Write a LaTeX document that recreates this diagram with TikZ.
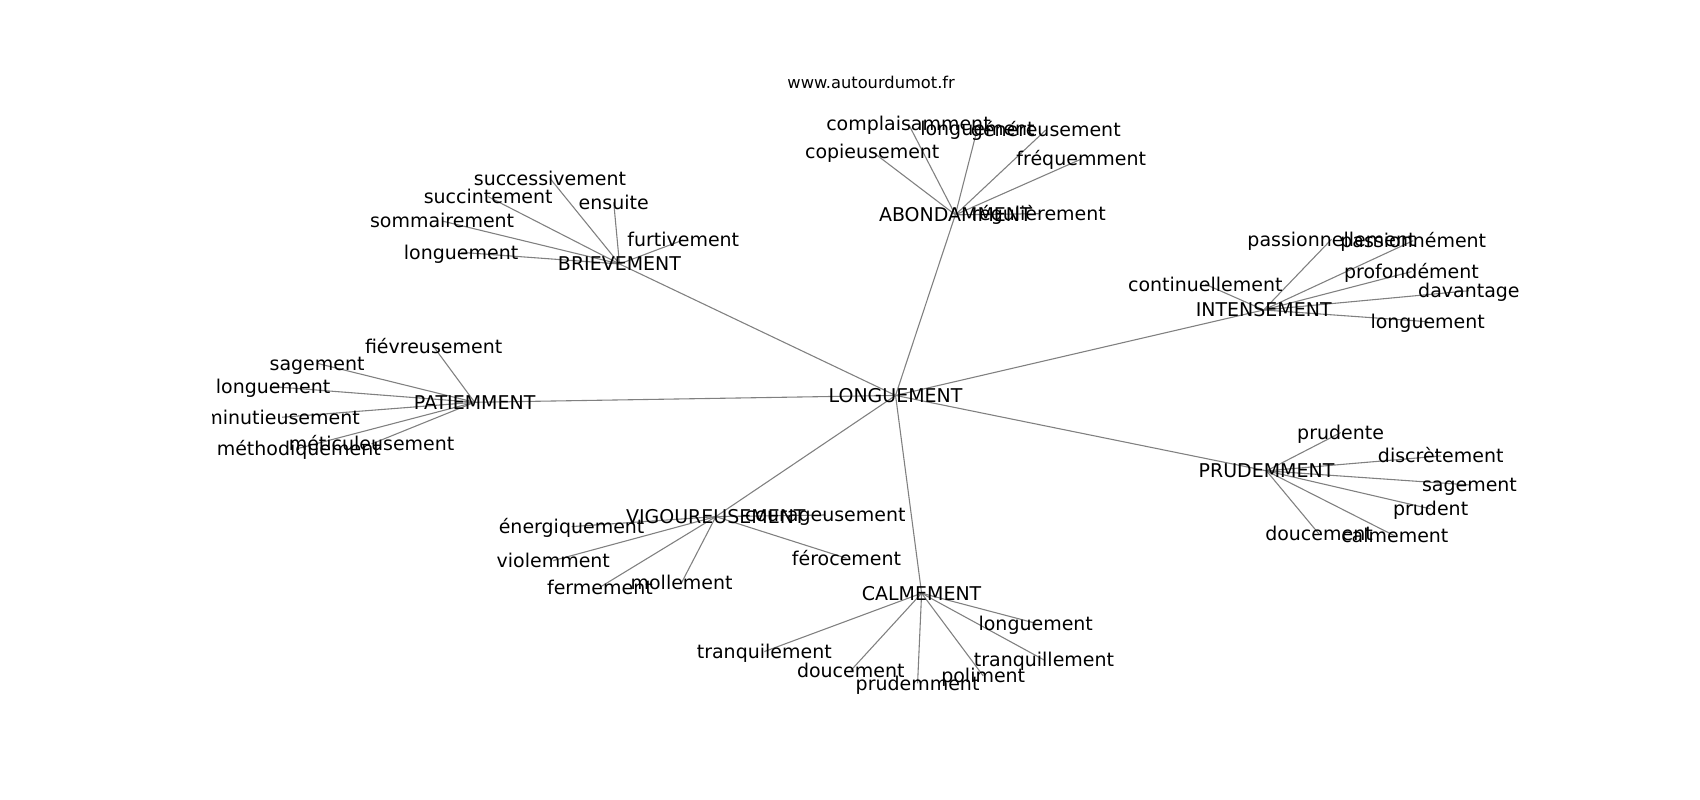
\documentclass[tikz,border=0pt]{standalone}
\usepackage{fontspec}
\setmainfont{DejaVu Sans}
\pgfdeclarelayer{bg}
\pgfsetlayers{bg,main}
\tikzset{
  lbl/.style={font=\fontsize{17.5}{21}\selectfont, inner sep=0pt, text height=16.3pt, text depth=3.7pt, anchor=center},
  ttl/.style={font=\fontsize{15}{18}\selectfont, inner sep=0pt, anchor=center},
  edge/.style={draw=gray, line width=1pt}
}
\begin{document}
\begin{tikzpicture}[x=1pt,y=-1pt]
\useasboundingbox (0,0) rectangle (1567,737);
\node[ttl] (title) at (803,76.2) {www.autourdumot.fr};
\begin{scope}
\clip (195.9,88.5) rectangle (1410.1,656.2);
% hubs
\node[lbl] (L) at (825.5,364.5) {LONGUEMENT};
\node[lbl] (A) at (880.6,198) {ABONDAMMENT};
\node[lbl] (B) at (571,243.3) {BRIEVEMENT};
\node[lbl] (I) at (1164.8,285.7) {INTENSEMENT};
\node[lbl] (P) at (437.5,370.8) {PATIEMMENT};
\node[lbl] (R) at (1167.4,434) {PRUDEMMENT};
\node[lbl] (V) at (659.8,476.2) {VIGOUREUSEMENT};
\node[lbl] (C) at (849.5,546.8) {CALMEMENT};
% ABONDAMMENT
\node[lbl] (a1) at (837.4,114.3) {complaisamment};
\node[lbl] (a2) at (804,139.8) {copieusement};
\node[lbl] (a3) at (901,118.3) {longuement};
\node[lbl] (a4) at (964,119.8) {généreusement};
\node[lbl] (a5) at (996.7,146.6) {fréquemment};
\node[lbl] (a6) at (957.5,197) {régulièrement};
% BRIEVEMENT
\node[lbl] (b1) at (506.9,164.3) {successivement};
\node[lbl] (b2) at (450,181.3) {succintement};
\node[lbl] (b3) at (565.7,186.5) {ensuite};
\node[lbl] (b4) at (407.5,203.7) {sommairement};
\node[lbl] (b5) at (425,232.6) {longuement};
\node[lbl] (b6) at (629.8,221.2) {furtivement};
% INTENSEMENT
\node[lbl] (i1) at (1227.3,220.6) {passionnellement};
\node[lbl] (i2) at (1302.7,221.8) {passionnément};
\node[lbl] (i3) at (1301,250.4) {profondément};
\node[lbl] (i4) at (1111,262) {continuellement};
\node[lbl] (i5) at (1354,268) {davantage};
\node[lbl] (i6) at (1316,296.5) {longuement};
% PATIEMMENT
\node[lbl] (p1) at (399.7,319.5) {fiévreusement};
\node[lbl] (p2) at (292.3,334.9) {sagement};
\node[lbl] (p3) at (251.7,356.4) {longuement};
\node[lbl] (p4) at (260,384.6) {minutieusement};
\node[lbl] (p5) at (275.4,413.2) {méthodiquement};
\node[lbl] (p6) at (342.5,409.2) {méticuleusement};
% PRUDEMMENT
\node[lbl] (r1) at (1235.7,398.8) {prudente};
\node[lbl] (r2) at (1328,420.3) {discrètement};
\node[lbl] (r3) at (1354.5,447) {sagement};
\node[lbl] (r4) at (1318.7,469.1) {prudent};
\node[lbl] (r5) at (1215.8,492.2) {doucement};
\node[lbl] (r6) at (1285.7,494) {calmement};
% VIGOUREUSEMENT
\node[lbl] (v1) at (760.7,474.7) {courageusement};
\node[lbl] (v2) at (526.9,485.4) {énergiquement};
\node[lbl] (v3) at (510,516.7) {violemment};
\node[lbl] (v4) at (553,541.3) {fermement};
\node[lbl] (v5) at (628.3,537) {mollement};
\node[lbl] (v6) at (780.3,514.6) {férocement};
% CALMEMENT
\node[lbl] (c1) at (954.7,574.5) {longuement};
\node[lbl] (c2) at (704.5,600.6) {tranquilement};
\node[lbl] (c3) at (962.3,608.3) {tranquillement};
\node[lbl] (c4) at (784.2,618.1) {doucement};
\node[lbl] (c5) at (906.3,623) {poliment};
\node[lbl] (c6) at (845.8,629.8) {prudemment};
\end{scope}
\begin{pgfonlayer}{bg}
\foreach \h in {A,B,I,P,R,V,C} \draw[edge] (L.center) -- (\h.center);
\foreach \h/\lc in {A/a,B/b,I/i,P/p,R/r,V/v,C/c} {
  \foreach \n in {1,...,6} {
    \draw[edge] (\h.center) -- (\lc\n.center);
  }
}
\end{pgfonlayer}
\end{tikzpicture}
\end{document}
